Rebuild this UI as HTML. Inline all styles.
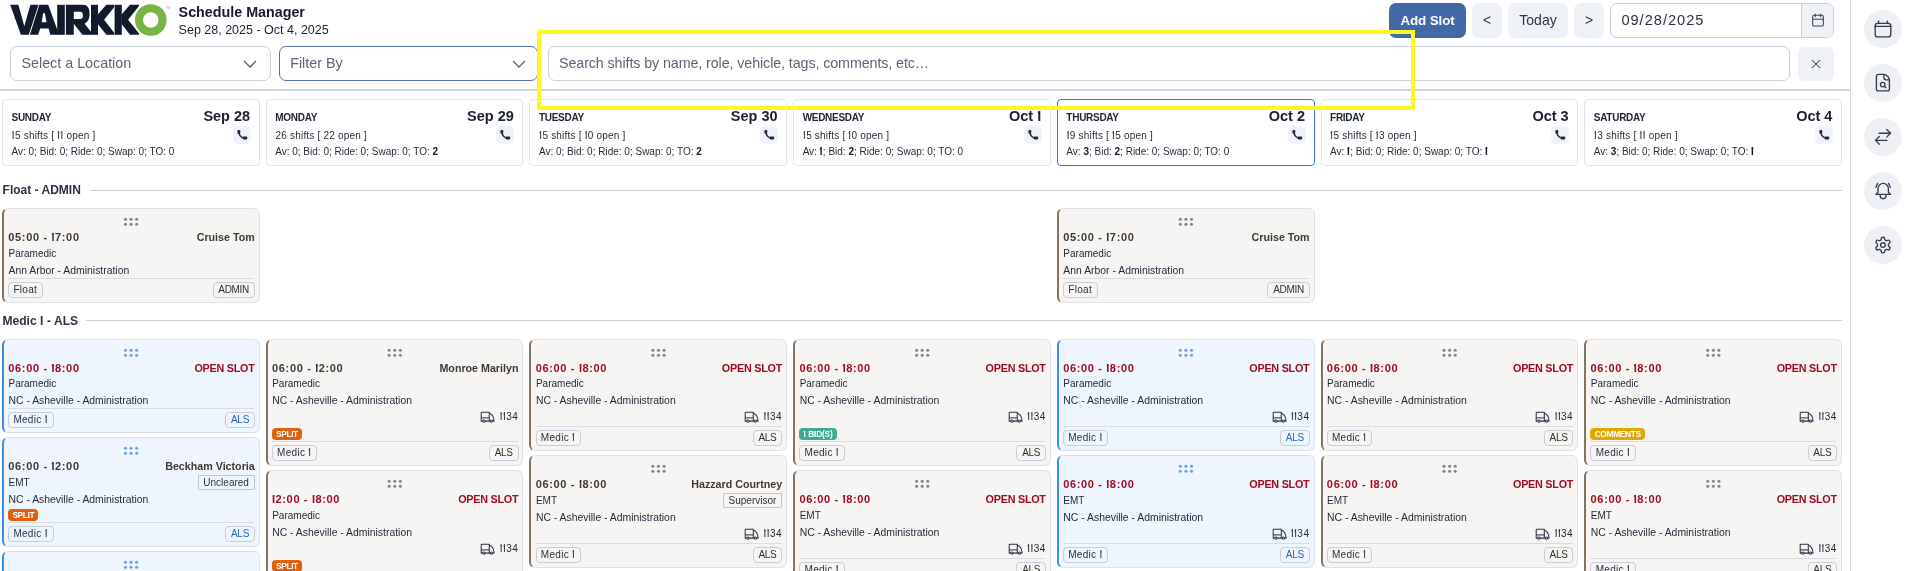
<!DOCTYPE html>
<html><head><meta charset="utf-8"><title>Schedule Manager</title><style>
*{margin:0;padding:0;}
html,body{width:1907px;height:571px;overflow:hidden;background:#fff;}
body{position:relative;font-family:"Liberation Sans", sans-serif;will-change:transform;}
.b{position:absolute;}
.t{position:absolute;white-space:nowrap;}
.t b{font-weight:700;color:#141a28;}
.o{letter-spacing:0.04em;position:relative;}
.o::before{content:'';position:absolute;left:0.01em;top:0.235em;width:0.13em;height:0.085em;background:currentColor;transform:rotate(-38deg);transform-origin:100% 0;}
.tb .o::before,.t b .o::before,.badge .o::before{height:0.12em;width:0.17em;left:-0.03em;top:0.225em;transform:rotate(-40deg);}
.tag{position:absolute;box-sizing:border-box;height:16px;line-height:14px;padding:0 4.8px 0 4.7px;border:1px solid #c8cdd7;border-radius:4px;font-size:10px;letter-spacing:-0.2px;white-space:nowrap;}
.rtag{position:absolute;box-sizing:border-box;height:14.5px;line-height:14px;padding:0 4.8px;border:1px solid #c0c5ce;border-radius:1px;color:#2c3444;font-size:10px;white-space:nowrap;}
.badge{position:absolute;height:12px;line-height:12px;padding:0 4.2px 0 4.4px;border-radius:4px;color:#fff;font-size:8.4px;font-weight:700;white-space:nowrap;}
</style></head>
<body>
<svg class="b" style="left:0;top:0" width="180" height="40" viewBox="0 0 180 40">
<g fill="#121a2e">
<polygon points="10.2,4.8 18.4,4.8 24.3,26.2 30.4,4.8 38.5,4.8 28.8,34.8 20.9,34.8"/>
<path fill-rule="evenodd" d="M39.3,4.8 L48.2,4.8 L57.3,29.8 L58.4,29.8 L58.4,34.8 L50.3,34.8 L48.6,28.5 L40.2,28.5 L38.2,34.8 L29.9,34.8 Z M43.1,13.3 L44.9,13.3 L46.5,22.2 L41.8,22.2 Z"/>
<rect x="57.2" y="4.8" width="7.6" height="30"/>
<path fill-rule="evenodd" d="M65.9,4.8 L83,4.8 C87.5,4.8 89.6,8.2 89.6,13.8 C89.6,18.8 87.6,22.4 84.6,23.8 L91.6,32.6 L91.6,34.8 L82.3,34.8 L74.2,24.3 L73.8,24.3 L73.8,34.8 L65.9,34.8 Z M73.8,11.8 L80.3,11.8 C82.2,11.8 82.9,13.4 82.9,15.4 C82.9,17.4 82.2,19 80.3,19 L73.8,19 Z"/>
<rect x="91" y="4.8" width="7" height="30"/>
<polygon points="97.8,14.6 106.3,4.8 114.1,4.8 114.1,7.2 104.1,19.7 114.1,32.7 114.1,34.8 106.3,34.8 97.8,24.1"/>
<rect x="114.6" y="4.8" width="7.2" height="30"/>
<polygon points="121.6,14.6 130,4.8 139,4.8 139,6 128.1,19.7 139,33.6 139,34.8 130,34.8 121.6,24.1"/>
</g>
<circle cx="150.8" cy="20" r="11.8" fill="none" stroke="#78b443" stroke-width="8"/>
<text x="165.4" y="8.6" font-size="3.4" fill="#a5aab2" font-family="Liberation Sans">TM</text>
</svg>
<div class="t tb" style="top:5px;font-size:14.3px;line-height:14.3px;font-weight:700;color:#141b2b;left:178.60px;">Schedule Manager</div>
<div class="t" style="top:24px;font-size:12.5px;line-height:12.5px;font-weight:400;color:#1a2030;left:178.60px;">Sep 28, 2025 - Oct 4, 2025</div>
<div class="b" style="left:1389.000px;top:3.000px;width:77.000px;height:35.000px;background:#4169a6;border-radius:7px;"></div>
<div class="t tb" style="top:14px;font-size:13.4px;line-height:13.4px;font-weight:700;color:#ffffff;letter-spacing:-0.1px;left:1227.50px;width:400px;text-align:center;">Add Slot</div>
<div class="b" style="left:1472.000px;top:3.000px;width:30.000px;height:35.000px;background:#eef1f6;border-radius:7px;"></div>
<div class="t" style="top:13px;font-size:14px;line-height:14px;font-weight:400;color:#2f3747;left:1287.00px;width:400px;text-align:center;">&lt;</div>
<div class="b" style="left:1508.000px;top:3.000px;width:60.000px;height:35.000px;background:#eef1f6;border-radius:7px;"></div>
<div class="t" style="top:13px;font-size:14.1px;line-height:14.1px;font-weight:400;color:#2f3747;left:1338.00px;width:400px;text-align:center;">Today</div>
<div class="b" style="left:1574.000px;top:3.000px;width:30.000px;height:35.000px;background:#eef1f6;border-radius:7px;"></div>
<div class="t" style="top:13px;font-size:14px;line-height:14px;font-weight:400;color:#2f3747;left:1389.00px;width:400px;text-align:center;">&gt;</div>
<div class="b" style="left:1610.000px;top:3.000px;width:224.000px;height:35.000px;box-sizing:border-box;border:1px solid #c8cfdd;border-radius:7px;background:#fff;overflow:hidden;"></div>
<div class="b" style="left:1801.000px;top:4.000px;width:32.000px;height:33.000px;background:#eef1f6;border-left:1px solid #c8cfdd;border-radius:0 6px 6px 0;box-sizing:border-box;"></div>
<div class="t" style="top:13px;font-size:14.6px;line-height:14.6px;font-weight:400;color:#2b3242;letter-spacing:1.0px;left:1621.40px;">09/28/2025</div>
<svg class="b" style="left:1809.50px;top:12.30px" width="16" height="16" viewBox="0 0 24 24" fill="none" stroke="#3a4252" stroke-width="1.6" stroke-linecap="round" stroke-linejoin="round"><path d="M4 7a2 2 0 0 1 2 -2h12a2 2 0 0 1 2 2v12a2 2 0 0 1 -2 2h-12a2 2 0 0 1 -2 -2v-12z"/><path d="M16 3v4"/><path d="M8 3v4"/><path d="M4 11h16"/></svg>
<div class="b" style="left:10.000px;top:46.000px;width:261.000px;height:35.000px;box-sizing:border-box;border:1px solid #c8cfdd;border-radius:7px;background:#fff;"></div>
<div class="t" style="top:56px;font-size:14.3px;line-height:14.3px;font-weight:400;color:#5b6579;left:21.50px;">Select a Location</div>
<svg class="b" style="left:243px;top:60px" width="14" height="8" viewBox="0 0 14 8"><path d="M1 1 L7 7 L13 1" fill="none" stroke="#5b6579" stroke-width="1.3"/></svg>
<div class="b" style="left:279.000px;top:46.000px;width:259.000px;height:35.000px;box-sizing:border-box;border:1px solid #4d72b4;border-radius:7px;background:#fff;"></div>
<div class="t" style="top:56px;font-size:14.3px;line-height:14.3px;font-weight:400;color:#5b6579;left:290.20px;">Filter By</div>
<svg class="b" style="left:512px;top:60px" width="14" height="8" viewBox="0 0 14 8"><path d="M1 1 L7 7 L13 1" fill="none" stroke="#5b6579" stroke-width="1.3"/></svg>
<div class="b" style="left:548.000px;top:46.000px;width:1242.000px;height:35.000px;box-sizing:border-box;border:1px solid #c8cfdd;border-radius:7px;background:#fff;"></div>
<div class="t" style="top:56px;font-size:14.3px;line-height:14.3px;font-weight:400;color:#5b6579;letter-spacing:-0.1px;left:559.00px;">Search shifts by name, role, vehicle, tags, comments, etc&hellip;</div>
<div class="b" style="left:1798.000px;top:47.000px;width:36.000px;height:34.000px;background:#eef1f6;border-radius:7px;"></div>
<svg class="b" style="left:1810px;top:58px" width="12" height="12" viewBox="0 0 12 12"><path d="M2 2 L10 10 M10 2 L2 10" stroke="#3a4252" stroke-width="1.05"/></svg>
<div class="b" style="left:0.000px;top:89.000px;width:1850.000px;height:2.000px;background:#d3d7de;"></div>
<div class="b" style="left:1850.000px;top:0.000px;width:1.000px;height:571.000px;background:#d5d8df;"></div>
<div class="b" style="left:1864px;top:9.8px;width:38px;height:38px;border-radius:50%;background:#eef0f5;"></div>
<svg class="b" style="left:1868px;top:14px" width="30" height="30" viewBox="0 0 30 30" fill="none" stroke="#343c4c" stroke-width="1.35" stroke-linecap="round" stroke-linejoin="round"><rect x="7.2" y="9.3" width="15.6" height="13.5" rx="2.4"/><path d="M7.2 12.4 H22.8"/><path d="M10.6 7.2 V9.3"/><path d="M19.4 7.2 V9.3"/></svg>
<div class="b" style="left:1864px;top:63.8px;width:38px;height:38px;border-radius:50%;background:#eef0f5;"></div>
<svg class="b" style="left:1868px;top:68px" width="30" height="30" viewBox="0 0 30 30" fill="none" stroke="#343c4c" stroke-width="1.35" stroke-linecap="round" stroke-linejoin="round"><path d="M10.4 6.4 H15.8 C18.5 6.4 21.4 9.3 21.4 12 V20.9 A2 2 0 0 1 19.4 22.9 H10.4 A2 2 0 0 1 8.4 20.9 V8.4 A2 2 0 0 1 10.4 6.4 Z"/><path d="M15.9 6.6 V9.6 A2.2 2.2 0 0 0 18.1 11.8 H21.2"/><circle cx="14.7" cy="16.6" r="2.3"/><path d="M16.4 18.3 L17.9 19.7"/></svg>
<div class="b" style="left:1864px;top:117.8px;width:38px;height:38px;border-radius:50%;background:#eef0f5;"></div>
<svg class="b" style="left:1868px;top:122px" width="30" height="30" viewBox="0 0 30 30" fill="none" stroke="#343c4c" stroke-width="1.35" stroke-linecap="round" stroke-linejoin="round"><path d="M11 11.2 H22.4"/><path d="M18.7 7.4 L22.5 11.2 L18.7 15.1"/><path d="M18.9 18.4 H7.6"/><path d="M11.3 14.5 L7.5 18.4 L11.3 22.3"/></svg>
<div class="b" style="left:1864px;top:171.8px;width:38px;height:38px;border-radius:50%;background:#eef0f5;"></div>
<svg class="b" style="left:1868px;top:176px" width="30" height="30" viewBox="0 0 30 30" fill="none" stroke="#343c4c" stroke-width="1.35" stroke-linecap="round" stroke-linejoin="round"><path d="M10 16.2 V12.6 A5.2 5.2 0 0 1 20.4 12.6 V16.2 L22.5 18.4 H7.9 Z"/><path d="M12.2 18.6 V19.8 A2.9 2.9 0 0 0 18 19.8 V18.6"/><path d="M9.6 7.4 L7.9 11.2"/><path d="M20.6 7.4 L22.3 11.2"/></svg>
<div class="b" style="left:1864px;top:225.8px;width:38px;height:38px;border-radius:50%;background:#eef0f5;"></div>
<svg class="b" style="left:1868px;top:230px" width="30" height="30" viewBox="0 0 30 30" fill="none" stroke="#343c4c" stroke-width="1.35" stroke-linecap="round" stroke-linejoin="round"><g transform="translate(5.6 5.7) scale(0.78)"><path stroke-width="1.75" d="M12.22 2h-.44a2 2 0 0 0-2 2v.18a2 2 0 0 1-1 1.73l-.43.25a2 2 0 0 1-2 0l-.15-.08a2 2 0 0 0-2.73.73l-.22.38a2 2 0 0 0 .73 2.730l.15.1a2 2 0 0 1 1 1.72v.51a2 2 0 0 1-1 1.740l-.15.09a2 2 0 0 0-.73 2.730l.22.38a2 2 0 0 0 2.73.73l.15-.08a2 2 0 0 1 2 0l.43.25a2 2 0 0 1 1 1.73V20a2 2 0 0 0 2 2h.44a2 2 0 0 0 2-2v-.18a2 2 0 0 1 1-1.73l.43-.25a2 2 0 0 1 2 0l.15.08a2 2 0 0 0 2.73-.73l.22-.39a2 2 0 0 0-.73-2.73l-.15-.08a2 2 0 0 1-1-1.74v-.5a2 2 0 0 1 1-1.74l.15-.09a2 2 0 0 0 .73-2.73l-.22-.38a2 2 0 0 0-2.73-.73l-.15.08a2 2 0 0 1-2 0l-.43-.25a2 2 0 0 1-1-1.73V4a2 2 0 0 0-2-2z"/><circle stroke-width="1.75" cx="12" cy="12" r="3"/></g></svg>
<div class="b" style="left:2.000px;top:99.000px;width:257.714px;height:67.000px;box-sizing:border-box;border:1px solid #e1e4ea;border-radius:4px;background:#fff;"></div>
<div class="t tb" style="top:113px;font-size:10px;line-height:10px;font-weight:700;color:#1d2433;letter-spacing:-0.28px;left:11.50px;">SUNDAY</div>
<div class="t tb" style="top:109px;font-size:14.5px;line-height:14.5px;font-weight:700;color:#1a2030;right:1656.89px;">Sep 28</div>
<div class="t" style="top:131px;font-size:10px;line-height:10px;font-weight:400;color:#262d3c;letter-spacing:0.2px;left:11.80px;"><span class="o">I</span>5 shifts [ <span class="o">I</span><span class="o">I</span> open ]</div>
<div class="t" style="top:147px;font-size:10px;line-height:10px;font-weight:400;color:#262d3c;left:11.50px;">Av: 0; Bid: 0; Ride: 0; Swap: 0; TO: 0</div>
<div class="b" style="left:232.714px;top:126.000px;width:18.000px;height:18.000px;background:#eff2f7;border-radius:5px;"></div>
<svg class="b" style="left:235.71px;top:128px" width="14" height="14" viewBox="0 0 14 14" fill="#232b3b"><rect x="1.4" y="2.1" width="2.9" height="3.6" rx="1"/><rect x="6.7" y="8.5" width="4.5" height="3.1" rx="1"/><path d="M2.9 4 A6.5 6.5 0 0 0 9.4 10.5" fill="none" stroke="#232b3b" stroke-width="1.45"/></svg>
<div class="b" style="left:265.714px;top:99.000px;width:257.714px;height:67.000px;box-sizing:border-box;border:1px solid #e1e4ea;border-radius:4px;background:#fff;"></div>
<div class="t tb" style="top:113px;font-size:10px;line-height:10px;font-weight:700;color:#1d2433;letter-spacing:-0.28px;left:275.21px;">MONDAY</div>
<div class="t tb" style="top:109px;font-size:14.5px;line-height:14.5px;font-weight:700;color:#1a2030;right:1393.17px;">Sep 29</div>
<div class="t" style="top:131px;font-size:10px;line-height:10px;font-weight:400;color:#262d3c;letter-spacing:0.2px;left:275.51px;">26 shifts [ 22 open ]</div>
<div class="t" style="top:147px;font-size:10px;line-height:10px;font-weight:400;color:#262d3c;left:275.21px;">Av: 0; Bid: 0; Ride: 0; Swap: 0; TO: <b>2</b></div>
<div class="b" style="left:496.428px;top:126.000px;width:18.000px;height:18.000px;background:#eff2f7;border-radius:5px;"></div>
<svg class="b" style="left:499.43px;top:128px" width="14" height="14" viewBox="0 0 14 14" fill="#232b3b"><rect x="1.4" y="2.1" width="2.9" height="3.6" rx="1"/><rect x="6.7" y="8.5" width="4.5" height="3.1" rx="1"/><path d="M2.9 4 A6.5 6.5 0 0 0 9.4 10.5" fill="none" stroke="#232b3b" stroke-width="1.45"/></svg>
<div class="b" style="left:529.428px;top:99.000px;width:257.714px;height:67.000px;box-sizing:border-box;border:1px solid #e1e4ea;border-radius:4px;background:#fff;"></div>
<div class="t tb" style="top:113px;font-size:10px;line-height:10px;font-weight:700;color:#1d2433;letter-spacing:-0.28px;left:538.93px;">TUESDAY</div>
<div class="t tb" style="top:109px;font-size:14.5px;line-height:14.5px;font-weight:700;color:#1a2030;right:1129.46px;">Sep 30</div>
<div class="t" style="top:131px;font-size:10px;line-height:10px;font-weight:400;color:#262d3c;letter-spacing:0.2px;left:539.23px;"><span class="o">I</span>5 shifts [ <span class="o">I</span>0 open ]</div>
<div class="t" style="top:147px;font-size:10px;line-height:10px;font-weight:400;color:#262d3c;left:538.93px;">Av: 0; Bid: 0; Ride: 0; Swap: 0; TO: <b>2</b></div>
<div class="b" style="left:760.142px;top:126.000px;width:18.000px;height:18.000px;background:#eff2f7;border-radius:5px;"></div>
<svg class="b" style="left:763.14px;top:128px" width="14" height="14" viewBox="0 0 14 14" fill="#232b3b"><rect x="1.4" y="2.1" width="2.9" height="3.6" rx="1"/><rect x="6.7" y="8.5" width="4.5" height="3.1" rx="1"/><path d="M2.9 4 A6.5 6.5 0 0 0 9.4 10.5" fill="none" stroke="#232b3b" stroke-width="1.45"/></svg>
<div class="b" style="left:793.142px;top:99.000px;width:257.714px;height:67.000px;box-sizing:border-box;border:1px solid #e1e4ea;border-radius:4px;background:#fff;"></div>
<div class="t tb" style="top:113px;font-size:10px;line-height:10px;font-weight:700;color:#1d2433;letter-spacing:-0.28px;left:802.64px;">WEDNESDAY</div>
<div class="t tb" style="top:109px;font-size:14.5px;line-height:14.5px;font-weight:700;color:#1a2030;right:865.16px;">Oct <span class="o">I</span></div>
<div class="t" style="top:131px;font-size:10px;line-height:10px;font-weight:400;color:#262d3c;letter-spacing:0.2px;left:802.94px;"><span class="o">I</span>5 shifts [ <span class="o">I</span>0 open ]</div>
<div class="t" style="top:147px;font-size:10px;line-height:10px;font-weight:400;color:#262d3c;left:802.64px;">Av: <b><span class="o">I</span></b>; Bid: <b>2</b>; Ride: 0; Swap: 0; TO: 0</div>
<div class="b" style="left:1023.856px;top:126.000px;width:18.000px;height:18.000px;background:#eff2f7;border-radius:5px;"></div>
<svg class="b" style="left:1026.86px;top:128px" width="14" height="14" viewBox="0 0 14 14" fill="#232b3b"><rect x="1.4" y="2.1" width="2.9" height="3.6" rx="1"/><rect x="6.7" y="8.5" width="4.5" height="3.1" rx="1"/><path d="M2.9 4 A6.5 6.5 0 0 0 9.4 10.5" fill="none" stroke="#232b3b" stroke-width="1.45"/></svg>
<div class="b" style="left:1056.856px;top:99.000px;width:257.714px;height:67.000px;box-sizing:border-box;border:1px solid #3d6ef0;border-radius:4px;background:#fff;"></div>
<div class="t tb" style="top:113px;font-size:10px;line-height:10px;font-weight:700;color:#1d2433;letter-spacing:-0.28px;left:1066.36px;">THURSDAY</div>
<div class="t tb" style="top:109px;font-size:14.5px;line-height:14.5px;font-weight:700;color:#1a2030;right:602.03px;">Oct 2</div>
<div class="t" style="top:131px;font-size:10px;line-height:10px;font-weight:400;color:#262d3c;letter-spacing:0.2px;left:1066.66px;"><span class="o">I</span>9 shifts [ <span class="o">I</span>5 open ]</div>
<div class="t" style="top:147px;font-size:10px;line-height:10px;font-weight:400;color:#262d3c;left:1066.36px;">Av: <b>3</b>; Bid: <b>2</b>; Ride: 0; Swap: 0; TO: 0</div>
<div class="b" style="left:1287.570px;top:126.000px;width:18.000px;height:18.000px;background:#eff2f7;border-radius:5px;"></div>
<svg class="b" style="left:1290.57px;top:128px" width="14" height="14" viewBox="0 0 14 14" fill="#232b3b"><rect x="1.4" y="2.1" width="2.9" height="3.6" rx="1"/><rect x="6.7" y="8.5" width="4.5" height="3.1" rx="1"/><path d="M2.9 4 A6.5 6.5 0 0 0 9.4 10.5" fill="none" stroke="#232b3b" stroke-width="1.45"/></svg>
<div class="b" style="left:1320.570px;top:99.000px;width:257.714px;height:67.000px;box-sizing:border-box;border:1px solid #e1e4ea;border-radius:4px;background:#fff;"></div>
<div class="t tb" style="top:113px;font-size:10px;line-height:10px;font-weight:700;color:#1d2433;letter-spacing:-0.28px;left:1330.07px;">FRIDAY</div>
<div class="t tb" style="top:109px;font-size:14.5px;line-height:14.5px;font-weight:700;color:#1a2030;right:338.32px;">Oct 3</div>
<div class="t" style="top:131px;font-size:10px;line-height:10px;font-weight:400;color:#262d3c;letter-spacing:0.2px;left:1330.37px;"><span class="o">I</span>5 shifts [ <span class="o">I</span>3 open ]</div>
<div class="t" style="top:147px;font-size:10px;line-height:10px;font-weight:400;color:#262d3c;left:1330.07px;">Av: <b><span class="o">I</span></b>; Bid: 0; Ride: 0; Swap: 0; TO: <b><span class="o">I</span></b></div>
<div class="b" style="left:1551.284px;top:126.000px;width:18.000px;height:18.000px;background:#eff2f7;border-radius:5px;"></div>
<svg class="b" style="left:1554.28px;top:128px" width="14" height="14" viewBox="0 0 14 14" fill="#232b3b"><rect x="1.4" y="2.1" width="2.9" height="3.6" rx="1"/><rect x="6.7" y="8.5" width="4.5" height="3.1" rx="1"/><path d="M2.9 4 A6.5 6.5 0 0 0 9.4 10.5" fill="none" stroke="#232b3b" stroke-width="1.45"/></svg>
<div class="b" style="left:1584.284px;top:99.000px;width:257.714px;height:67.000px;box-sizing:border-box;border:1px solid #e1e4ea;border-radius:4px;background:#fff;"></div>
<div class="t tb" style="top:113px;font-size:10px;line-height:10px;font-weight:700;color:#1d2433;letter-spacing:-0.28px;left:1593.78px;">SATURDAY</div>
<div class="t tb" style="top:109px;font-size:14.5px;line-height:14.5px;font-weight:700;color:#1a2030;right:74.60px;">Oct 4</div>
<div class="t" style="top:131px;font-size:10px;line-height:10px;font-weight:400;color:#262d3c;letter-spacing:0.2px;left:1594.08px;"><span class="o">I</span>3 shifts [ <span class="o">I</span><span class="o">I</span> open ]</div>
<div class="t" style="top:147px;font-size:10px;line-height:10px;font-weight:400;color:#262d3c;left:1593.78px;">Av: <b>3</b>; Bid: 0; Ride: 0; Swap: 0; TO: <b><span class="o">I</span></b></div>
<div class="b" style="left:1814.998px;top:126.000px;width:18.000px;height:18.000px;background:#eff2f7;border-radius:5px;"></div>
<svg class="b" style="left:1818.00px;top:128px" width="14" height="14" viewBox="0 0 14 14" fill="#232b3b"><rect x="1.4" y="2.1" width="2.9" height="3.6" rx="1"/><rect x="6.7" y="8.5" width="4.5" height="3.1" rx="1"/><path d="M2.9 4 A6.5 6.5 0 0 0 9.4 10.5" fill="none" stroke="#232b3b" stroke-width="1.45"/></svg>
<div class="t tb" style="top:184px;font-size:12px;line-height:12px;font-weight:700;color:#2c3444;left:2.60px;">Float - ADMIN</div>
<div class="b" style="left:90.000px;top:190.000px;width:1752.000px;height:1.000px;background:#c9ced7;"></div>
<div class="t tb" style="top:315px;font-size:12px;line-height:12px;font-weight:700;color:#2c3444;left:2.60px;">Medic <span class="o">I</span> - ALS</div>
<div class="b" style="left:86.000px;top:320.000px;width:1756.000px;height:1.000px;background:#c9ced7;"></div>
<div class="b" style="left:2.000px;top:208.000px;width:257.714px;height:95.000px;box-sizing:border-box;border:1px solid #dee1e6;border-left:2px solid #86735f;border-radius:6px;background:#f6f5f3;"></div>
<svg class="b" style="left:0;top:0;overflow:visible" width="1" height="1"><circle cx="125.46" cy="219.30" r="1.55" fill="#858585"/><circle cx="131.06" cy="219.30" r="1.55" fill="#858585"/><circle cx="136.66" cy="219.30" r="1.55" fill="#858585"/><circle cx="125.46" cy="224.25" r="1.55" fill="#858585"/><circle cx="131.06" cy="224.25" r="1.55" fill="#858585"/><circle cx="136.66" cy="224.25" r="1.55" fill="#858585"/></svg>
<div class="t tb" style="top:232px;font-size:11px;line-height:11px;font-weight:700;color:#403a33;letter-spacing:0.66px;left:8.30px;">05:00 - <span class="o">I</span>7:00</div>
<div class="t tb" style="top:232px;font-size:10.7px;line-height:10.7px;font-weight:700;color:#403a33;right:1652.29px;">Cruise Tom</div>
<div class="t" style="top:249px;font-size:10px;line-height:10px;font-weight:400;color:#1e2636;left:8.50px;">Paramedic</div>
<div class="t" style="top:266px;font-size:10.4px;line-height:10.4px;font-weight:400;color:#1e2636;left:8.50px;">Ann Arbor - Administration</div>
<div class="b" style="left:8.000px;top:278.000px;width:246.214px;height:1.000px;background:#dcdcde;"></div>
<div class="tag" style="left:8.20px;top:281.60px;color:#2a3242;letter-spacing:0.3px;padding-left:4.2px">Float</div>
<div class="tag" style="right:1652.19px;top:281.60px;color:#35302a;letter-spacing:-0.3px">ADMIN</div>
<div class="b" style="left:1056.856px;top:208.000px;width:257.714px;height:95.000px;box-sizing:border-box;border:1px solid #dee1e6;border-left:2px solid #86735f;border-radius:6px;background:#f6f5f3;"></div>
<svg class="b" style="left:0;top:0;overflow:visible" width="1" height="1"><circle cx="1180.31" cy="219.30" r="1.55" fill="#858585"/><circle cx="1185.91" cy="219.30" r="1.55" fill="#858585"/><circle cx="1191.51" cy="219.30" r="1.55" fill="#858585"/><circle cx="1180.31" cy="224.25" r="1.55" fill="#858585"/><circle cx="1185.91" cy="224.25" r="1.55" fill="#858585"/><circle cx="1191.51" cy="224.25" r="1.55" fill="#858585"/></svg>
<div class="t tb" style="top:232px;font-size:11px;line-height:11px;font-weight:700;color:#403a33;letter-spacing:0.66px;left:1063.16px;">05:00 - <span class="o">I</span>7:00</div>
<div class="t tb" style="top:232px;font-size:10.7px;line-height:10.7px;font-weight:700;color:#403a33;right:597.43px;">Cruise Tom</div>
<div class="t" style="top:249px;font-size:10px;line-height:10px;font-weight:400;color:#1e2636;left:1063.36px;">Paramedic</div>
<div class="t" style="top:266px;font-size:10.4px;line-height:10.4px;font-weight:400;color:#1e2636;left:1063.36px;">Ann Arbor - Administration</div>
<div class="b" style="left:1062.856px;top:278.000px;width:246.214px;height:1.000px;background:#dcdcde;"></div>
<div class="tag" style="left:1063.06px;top:281.60px;color:#2a3242;letter-spacing:0.3px;padding-left:4.2px">Float</div>
<div class="tag" style="right:597.33px;top:281.60px;color:#35302a;letter-spacing:-0.3px">ADMIN</div>
<div class="b" style="left:2.000px;top:339.000px;width:257.714px;height:94.000px;box-sizing:border-box;border:1px solid #dfe2e8;border-left:2px solid #3a8fea;border-radius:6px;background:#eef5fe;"></div>
<svg class="b" style="left:0;top:0;overflow:visible" width="1" height="1"><circle cx="125.46" cy="350.30" r="1.55" fill="#6da2dd"/><circle cx="131.06" cy="350.30" r="1.55" fill="#6da2dd"/><circle cx="136.66" cy="350.30" r="1.55" fill="#6da2dd"/><circle cx="125.46" cy="355.25" r="1.55" fill="#6da2dd"/><circle cx="131.06" cy="355.25" r="1.55" fill="#6da2dd"/><circle cx="136.66" cy="355.25" r="1.55" fill="#6da2dd"/></svg>
<div class="t tb" style="top:363px;font-size:11px;line-height:11px;font-weight:700;color:#a00c1f;letter-spacing:0.66px;left:8.30px;">06:00 - <span class="o">I</span>8:00</div>
<div class="t tb" style="top:363px;font-size:10.8px;line-height:10.8px;font-weight:700;color:#a00c1f;letter-spacing:-0.25px;right:1652.44px;">OPEN SLOT</div>
<div class="t" style="top:379px;font-size:10px;line-height:10px;font-weight:400;color:#1e2636;left:8.50px;">Paramedic</div>
<div class="t" style="top:396px;font-size:10.4px;line-height:10.4px;font-weight:400;color:#1e2636;left:8.50px;">NC - Asheville - Administration</div>
<div class="b" style="left:8.000px;top:408.000px;width:246.214px;height:1.000px;background:#d5dce6;"></div>
<div class="tag" style="left:8.20px;top:411.60px;color:#2a3242;letter-spacing:0.3px;padding-left:4.2px">Medic <span class="o">I</span></div>
<div class="tag" style="right:1652.19px;top:411.60px;color:#2a68bd;letter-spacing:-0.3px">ALS</div>
<div class="b" style="left:2.000px;top:437.000px;width:257.714px;height:110.000px;box-sizing:border-box;border:1px solid #dfe2e8;border-left:2px solid #3a8fea;border-radius:6px;background:#eef5fe;"></div>
<svg class="b" style="left:0;top:0;overflow:visible" width="1" height="1"><circle cx="125.46" cy="448.30" r="1.55" fill="#6da2dd"/><circle cx="131.06" cy="448.30" r="1.55" fill="#6da2dd"/><circle cx="136.66" cy="448.30" r="1.55" fill="#6da2dd"/><circle cx="125.46" cy="453.25" r="1.55" fill="#6da2dd"/><circle cx="131.06" cy="453.25" r="1.55" fill="#6da2dd"/><circle cx="136.66" cy="453.25" r="1.55" fill="#6da2dd"/></svg>
<div class="t tb" style="top:461px;font-size:11px;line-height:11px;font-weight:700;color:#403a33;letter-spacing:0.66px;left:8.30px;">06:00 - <span class="o">I</span>2:00</div>
<div class="t tb" style="top:461px;font-size:10.7px;line-height:10.7px;font-weight:700;color:#403a33;right:1652.29px;">Beckham Victoria</div>
<div class="t" style="top:478px;font-size:10px;line-height:10px;font-weight:400;color:#1e2636;left:8.50px;">EMT</div>
<div class="rtag" style="right:1652.29px;top:475px;">Uncleared</div>
<div class="t" style="top:495px;font-size:10.4px;line-height:10.4px;font-weight:400;color:#1e2636;left:8.50px;">NC - Asheville - Administration</div>
<div class="badge" style="left:8.00px;top:509px;background:#e0600c;letter-spacing:-0.4px">SPLIT</div>
<div class="b" style="left:8.000px;top:522.000px;width:246.214px;height:1.000px;background:#d5dce6;"></div>
<div class="tag" style="left:8.20px;top:525.60px;color:#2a3242;letter-spacing:0.3px;padding-left:4.2px">Medic <span class="o">I</span></div>
<div class="tag" style="right:1652.19px;top:525.60px;color:#2a68bd;letter-spacing:-0.3px">ALS</div>
<div class="b" style="left:2.000px;top:551.000px;width:257.714px;height:95.000px;box-sizing:border-box;border:1px solid #dfe2e8;border-left:2px solid #3a8fea;border-radius:6px;background:#eef5fe;"></div>
<svg class="b" style="left:0;top:0;overflow:visible" width="1" height="1"><circle cx="125.46" cy="562.30" r="1.55" fill="#6da2dd"/><circle cx="131.06" cy="562.30" r="1.55" fill="#6da2dd"/><circle cx="136.66" cy="562.30" r="1.55" fill="#6da2dd"/><circle cx="125.46" cy="567.25" r="1.55" fill="#6da2dd"/><circle cx="131.06" cy="567.25" r="1.55" fill="#6da2dd"/><circle cx="136.66" cy="567.25" r="1.55" fill="#6da2dd"/></svg>
<div class="t tb" style="top:575px;font-size:11px;line-height:11px;font-weight:700;color:#a00c1f;letter-spacing:0.66px;left:8.30px;">06:00 - <span class="o">I</span>8:00</div>
<div class="t tb" style="top:575px;font-size:10.8px;line-height:10.8px;font-weight:700;color:#a00c1f;letter-spacing:-0.25px;right:1652.44px;">OPEN SLOT</div>
<div class="t" style="top:592px;font-size:10px;line-height:10px;font-weight:400;color:#1e2636;left:8.50px;">Paramedic</div>
<div class="t" style="top:609px;font-size:10.4px;line-height:10.4px;font-weight:400;color:#1e2636;left:8.50px;">NC - Asheville - Administration</div>
<div class="b" style="left:8.000px;top:621.000px;width:246.214px;height:1.000px;background:#d5dce6;"></div>
<div class="tag" style="left:8.20px;top:624.60px;color:#2a3242;letter-spacing:0.3px;padding-left:4.2px">Medic <span class="o">I</span></div>
<div class="tag" style="right:1652.19px;top:624.60px;color:#2a68bd;letter-spacing:-0.3px">ALS</div>
<div class="b" style="left:265.714px;top:339.000px;width:257.714px;height:127.000px;box-sizing:border-box;border:1px solid #dee1e6;border-left:2px solid #86735f;border-radius:6px;background:#f6f5f3;"></div>
<svg class="b" style="left:0;top:0;overflow:visible" width="1" height="1"><circle cx="389.17" cy="350.30" r="1.55" fill="#858585"/><circle cx="394.77" cy="350.30" r="1.55" fill="#858585"/><circle cx="400.37" cy="350.30" r="1.55" fill="#858585"/><circle cx="389.17" cy="355.25" r="1.55" fill="#858585"/><circle cx="394.77" cy="355.25" r="1.55" fill="#858585"/><circle cx="400.37" cy="355.25" r="1.55" fill="#858585"/></svg>
<div class="t tb" style="top:363px;font-size:11px;line-height:11px;font-weight:700;color:#403a33;letter-spacing:0.66px;left:272.01px;">06:00 - <span class="o">I</span>2:00</div>
<div class="t tb" style="top:363px;font-size:10.7px;line-height:10.7px;font-weight:700;color:#403a33;right:1388.57px;">Monroe Marilyn</div>
<div class="t" style="top:379px;font-size:10px;line-height:10px;font-weight:400;color:#1e2636;left:272.21px;">Paramedic</div>
<div class="t" style="top:396px;font-size:10.4px;line-height:10.4px;font-weight:400;color:#1e2636;left:272.21px;">NC - Asheville - Administration</div>
<div class="t" style="top:412px;font-size:10px;line-height:10px;font-weight:400;color:#1e2636;letter-spacing:0.5px;right:1388.67px;"><span class="o">I</span><span class="o">I</span>34</div>
<svg class="b" style="left:480.43px;top:410.60px" width="15" height="12" viewBox="0 0 15 12" fill="none" stroke="#2a3345" stroke-width="1.05" stroke-linejoin="round"><path d="M1.2 10.1 V2.1 a0.9 0.9 0 0 1 0.9 -0.9 H9.3 V10.1 Z"/><path d="M1.2 6.9 H9.3"/><path d="M9.3 1.9 Q13.4 3.6 14 9 V10.1 H9.3"/><circle cx="3.9" cy="10.1" r="1.2" fill="#fff"/><circle cx="11.4" cy="10.1" r="1.2" fill="#fff"/></svg>
<div class="badge" style="left:271.71px;top:428px;background:#e0600c;letter-spacing:-0.4px">SPLIT</div>
<div class="b" style="left:271.714px;top:441.000px;width:246.214px;height:1.000px;background:#dcdcde;"></div>
<div class="tag" style="left:271.91px;top:444.60px;color:#2a3242;letter-spacing:0.3px;padding-left:4.2px">Medic <span class="o">I</span></div>
<div class="tag" style="right:1388.47px;top:444.60px;color:#35302a;letter-spacing:-0.3px">ALS</div>
<div class="b" style="left:265.714px;top:470.000px;width:257.714px;height:128.000px;box-sizing:border-box;border:1px solid #dee1e6;border-left:2px solid #86735f;border-radius:6px;background:#f6f5f3;"></div>
<svg class="b" style="left:0;top:0;overflow:visible" width="1" height="1"><circle cx="389.17" cy="481.30" r="1.55" fill="#858585"/><circle cx="394.77" cy="481.30" r="1.55" fill="#858585"/><circle cx="400.37" cy="481.30" r="1.55" fill="#858585"/><circle cx="389.17" cy="486.25" r="1.55" fill="#858585"/><circle cx="394.77" cy="486.25" r="1.55" fill="#858585"/><circle cx="400.37" cy="486.25" r="1.55" fill="#858585"/></svg>
<div class="t tb" style="top:494px;font-size:11px;line-height:11px;font-weight:700;color:#a00c1f;letter-spacing:0.66px;left:272.01px;"><span class="o">I</span>2:00 - <span class="o">I</span>8:00</div>
<div class="t tb" style="top:494px;font-size:10.8px;line-height:10.8px;font-weight:700;color:#a00c1f;letter-spacing:-0.25px;right:1388.72px;">OPEN SLOT</div>
<div class="t" style="top:511px;font-size:10px;line-height:10px;font-weight:400;color:#1e2636;left:272.21px;">Paramedic</div>
<div class="t" style="top:528px;font-size:10.4px;line-height:10.4px;font-weight:400;color:#1e2636;left:272.21px;">NC - Asheville - Administration</div>
<div class="t" style="top:544px;font-size:10px;line-height:10px;font-weight:400;color:#1e2636;letter-spacing:0.5px;right:1388.67px;"><span class="o">I</span><span class="o">I</span>34</div>
<svg class="b" style="left:480.43px;top:542.60px" width="15" height="12" viewBox="0 0 15 12" fill="none" stroke="#2a3345" stroke-width="1.05" stroke-linejoin="round"><path d="M1.2 10.1 V2.1 a0.9 0.9 0 0 1 0.9 -0.9 H9.3 V10.1 Z"/><path d="M1.2 6.9 H9.3"/><path d="M9.3 1.9 Q13.4 3.6 14 9 V10.1 H9.3"/><circle cx="3.9" cy="10.1" r="1.2" fill="#fff"/><circle cx="11.4" cy="10.1" r="1.2" fill="#fff"/></svg>
<div class="badge" style="left:271.71px;top:560px;background:#e0600c;letter-spacing:-0.4px">SPLIT</div>
<div class="b" style="left:271.714px;top:573.000px;width:246.214px;height:1.000px;background:#dcdcde;"></div>
<div class="tag" style="left:271.91px;top:576.60px;color:#2a3242;letter-spacing:0.3px;padding-left:4.2px">Medic <span class="o">I</span></div>
<div class="tag" style="right:1388.47px;top:576.60px;color:#35302a;letter-spacing:-0.3px">ALS</div>
<div class="b" style="left:529.428px;top:339.000px;width:257.714px;height:112.000px;box-sizing:border-box;border:1px solid #dee1e6;border-left:2px solid #86735f;border-radius:6px;background:#f6f5f3;"></div>
<svg class="b" style="left:0;top:0;overflow:visible" width="1" height="1"><circle cx="652.88" cy="350.30" r="1.55" fill="#858585"/><circle cx="658.49" cy="350.30" r="1.55" fill="#858585"/><circle cx="664.09" cy="350.30" r="1.55" fill="#858585"/><circle cx="652.88" cy="355.25" r="1.55" fill="#858585"/><circle cx="658.49" cy="355.25" r="1.55" fill="#858585"/><circle cx="664.09" cy="355.25" r="1.55" fill="#858585"/></svg>
<div class="t tb" style="top:363px;font-size:11px;line-height:11px;font-weight:700;color:#a00c1f;letter-spacing:0.66px;left:535.73px;">06:00 - <span class="o">I</span>8:00</div>
<div class="t tb" style="top:363px;font-size:10.8px;line-height:10.8px;font-weight:700;color:#a00c1f;letter-spacing:-0.25px;right:1125.01px;">OPEN SLOT</div>
<div class="t" style="top:379px;font-size:10px;line-height:10px;font-weight:400;color:#1e2636;left:535.93px;">Paramedic</div>
<div class="t" style="top:396px;font-size:10.4px;line-height:10.4px;font-weight:400;color:#1e2636;left:535.93px;">NC - Asheville - Administration</div>
<div class="t" style="top:412px;font-size:10px;line-height:10px;font-weight:400;color:#1e2636;letter-spacing:0.5px;right:1124.96px;"><span class="o">I</span><span class="o">I</span>34</div>
<svg class="b" style="left:744.14px;top:410.60px" width="15" height="12" viewBox="0 0 15 12" fill="none" stroke="#2a3345" stroke-width="1.05" stroke-linejoin="round"><path d="M1.2 10.1 V2.1 a0.9 0.9 0 0 1 0.9 -0.9 H9.3 V10.1 Z"/><path d="M1.2 6.9 H9.3"/><path d="M9.3 1.9 Q13.4 3.6 14 9 V10.1 H9.3"/><circle cx="3.9" cy="10.1" r="1.2" fill="#fff"/><circle cx="11.4" cy="10.1" r="1.2" fill="#fff"/></svg>
<div class="b" style="left:535.428px;top:426.000px;width:246.214px;height:1.000px;background:#dcdcde;"></div>
<div class="tag" style="left:535.63px;top:429.60px;color:#2a3242;letter-spacing:0.3px;padding-left:4.2px">Medic <span class="o">I</span></div>
<div class="tag" style="right:1124.76px;top:429.60px;color:#35302a;letter-spacing:-0.3px">ALS</div>
<div class="b" style="left:529.428px;top:455.000px;width:257.714px;height:113.000px;box-sizing:border-box;border:1px solid #dee1e6;border-left:2px solid #86735f;border-radius:6px;background:#f6f5f3;"></div>
<svg class="b" style="left:0;top:0;overflow:visible" width="1" height="1"><circle cx="652.88" cy="466.30" r="1.55" fill="#858585"/><circle cx="658.49" cy="466.30" r="1.55" fill="#858585"/><circle cx="664.09" cy="466.30" r="1.55" fill="#858585"/><circle cx="652.88" cy="471.25" r="1.55" fill="#858585"/><circle cx="658.49" cy="471.25" r="1.55" fill="#858585"/><circle cx="664.09" cy="471.25" r="1.55" fill="#858585"/></svg>
<div class="t tb" style="top:479px;font-size:11px;line-height:11px;font-weight:700;color:#403a33;letter-spacing:0.66px;left:535.73px;">06:00 - <span class="o">I</span>8:00</div>
<div class="t tb" style="top:479px;font-size:10.7px;line-height:10.7px;font-weight:700;color:#403a33;right:1124.86px;">Hazzard Courtney</div>
<div class="t" style="top:496px;font-size:10px;line-height:10px;font-weight:400;color:#1e2636;left:535.93px;">EMT</div>
<div class="rtag" style="right:1124.86px;top:493px;">Supervisor</div>
<div class="t" style="top:513px;font-size:10.4px;line-height:10.4px;font-weight:400;color:#1e2636;left:535.93px;">NC - Asheville - Administration</div>
<div class="t" style="top:529px;font-size:10px;line-height:10px;font-weight:400;color:#1e2636;letter-spacing:0.5px;right:1124.96px;"><span class="o">I</span><span class="o">I</span>34</div>
<svg class="b" style="left:744.14px;top:527.60px" width="15" height="12" viewBox="0 0 15 12" fill="none" stroke="#2a3345" stroke-width="1.05" stroke-linejoin="round"><path d="M1.2 10.1 V2.1 a0.9 0.9 0 0 1 0.9 -0.9 H9.3 V10.1 Z"/><path d="M1.2 6.9 H9.3"/><path d="M9.3 1.9 Q13.4 3.6 14 9 V10.1 H9.3"/><circle cx="3.9" cy="10.1" r="1.2" fill="#fff"/><circle cx="11.4" cy="10.1" r="1.2" fill="#fff"/></svg>
<div class="b" style="left:535.428px;top:543.000px;width:246.214px;height:1.000px;background:#dcdcde;"></div>
<div class="tag" style="left:535.63px;top:546.60px;color:#2a3242;letter-spacing:0.3px;padding-left:4.2px">Medic <span class="o">I</span></div>
<div class="tag" style="right:1124.76px;top:546.60px;color:#35302a;letter-spacing:-0.3px">ALS</div>
<div class="b" style="left:793.142px;top:339.000px;width:257.714px;height:127.000px;box-sizing:border-box;border:1px solid #dee1e6;border-left:2px solid #86735f;border-radius:6px;background:#f6f5f3;"></div>
<svg class="b" style="left:0;top:0;overflow:visible" width="1" height="1"><circle cx="916.60" cy="350.30" r="1.55" fill="#858585"/><circle cx="922.20" cy="350.30" r="1.55" fill="#858585"/><circle cx="927.80" cy="350.30" r="1.55" fill="#858585"/><circle cx="916.60" cy="355.25" r="1.55" fill="#858585"/><circle cx="922.20" cy="355.25" r="1.55" fill="#858585"/><circle cx="927.80" cy="355.25" r="1.55" fill="#858585"/></svg>
<div class="t tb" style="top:363px;font-size:11px;line-height:11px;font-weight:700;color:#a00c1f;letter-spacing:0.66px;left:799.44px;">06:00 - <span class="o">I</span>8:00</div>
<div class="t tb" style="top:363px;font-size:10.8px;line-height:10.8px;font-weight:700;color:#a00c1f;letter-spacing:-0.25px;right:861.29px;">OPEN SLOT</div>
<div class="t" style="top:379px;font-size:10px;line-height:10px;font-weight:400;color:#1e2636;left:799.64px;">Paramedic</div>
<div class="t" style="top:396px;font-size:10.4px;line-height:10.4px;font-weight:400;color:#1e2636;left:799.64px;">NC - Asheville - Administration</div>
<div class="t" style="top:412px;font-size:10px;line-height:10px;font-weight:400;color:#1e2636;letter-spacing:0.5px;right:861.24px;"><span class="o">I</span><span class="o">I</span>34</div>
<svg class="b" style="left:1007.86px;top:410.60px" width="15" height="12" viewBox="0 0 15 12" fill="none" stroke="#2a3345" stroke-width="1.05" stroke-linejoin="round"><path d="M1.2 10.1 V2.1 a0.9 0.9 0 0 1 0.9 -0.9 H9.3 V10.1 Z"/><path d="M1.2 6.9 H9.3"/><path d="M9.3 1.9 Q13.4 3.6 14 9 V10.1 H9.3"/><circle cx="3.9" cy="10.1" r="1.2" fill="#fff"/><circle cx="11.4" cy="10.1" r="1.2" fill="#fff"/></svg>
<div class="badge" style="left:799.14px;top:428px;background:#3fab94;letter-spacing:-0.23px"><span class="o">I</span> BID(S)</div>
<div class="b" style="left:799.142px;top:441.000px;width:246.214px;height:1.000px;background:#dcdcde;"></div>
<div class="tag" style="left:799.34px;top:444.60px;color:#2a3242;letter-spacing:0.3px;padding-left:4.2px">Medic <span class="o">I</span></div>
<div class="tag" style="right:861.04px;top:444.60px;color:#35302a;letter-spacing:-0.3px">ALS</div>
<div class="b" style="left:793.142px;top:470.000px;width:257.714px;height:113.000px;box-sizing:border-box;border:1px solid #dee1e6;border-left:2px solid #86735f;border-radius:6px;background:#f6f5f3;"></div>
<svg class="b" style="left:0;top:0;overflow:visible" width="1" height="1"><circle cx="916.60" cy="481.30" r="1.55" fill="#858585"/><circle cx="922.20" cy="481.30" r="1.55" fill="#858585"/><circle cx="927.80" cy="481.30" r="1.55" fill="#858585"/><circle cx="916.60" cy="486.25" r="1.55" fill="#858585"/><circle cx="922.20" cy="486.25" r="1.55" fill="#858585"/><circle cx="927.80" cy="486.25" r="1.55" fill="#858585"/></svg>
<div class="t tb" style="top:494px;font-size:11px;line-height:11px;font-weight:700;color:#a00c1f;letter-spacing:0.66px;left:799.44px;">06:00 - <span class="o">I</span>8:00</div>
<div class="t tb" style="top:494px;font-size:10.8px;line-height:10.8px;font-weight:700;color:#a00c1f;letter-spacing:-0.25px;right:861.29px;">OPEN SLOT</div>
<div class="t" style="top:511px;font-size:10px;line-height:10px;font-weight:400;color:#1e2636;left:799.64px;">EMT</div>
<div class="t" style="top:528px;font-size:10.4px;line-height:10.4px;font-weight:400;color:#1e2636;left:799.64px;">NC - Asheville - Administration</div>
<div class="t" style="top:544px;font-size:10px;line-height:10px;font-weight:400;color:#1e2636;letter-spacing:0.5px;right:861.24px;"><span class="o">I</span><span class="o">I</span>34</div>
<svg class="b" style="left:1007.86px;top:542.60px" width="15" height="12" viewBox="0 0 15 12" fill="none" stroke="#2a3345" stroke-width="1.05" stroke-linejoin="round"><path d="M1.2 10.1 V2.1 a0.9 0.9 0 0 1 0.9 -0.9 H9.3 V10.1 Z"/><path d="M1.2 6.9 H9.3"/><path d="M9.3 1.9 Q13.4 3.6 14 9 V10.1 H9.3"/><circle cx="3.9" cy="10.1" r="1.2" fill="#fff"/><circle cx="11.4" cy="10.1" r="1.2" fill="#fff"/></svg>
<div class="b" style="left:799.142px;top:558.000px;width:246.214px;height:1.000px;background:#dcdcde;"></div>
<div class="tag" style="left:799.34px;top:561.60px;color:#2a3242;letter-spacing:0.3px;padding-left:4.2px">Medic <span class="o">I</span></div>
<div class="tag" style="right:861.04px;top:561.60px;color:#35302a;letter-spacing:-0.3px">ALS</div>
<div class="b" style="left:1056.856px;top:339.000px;width:257.714px;height:112.000px;box-sizing:border-box;border:1px solid #dfe2e8;border-left:2px solid #3a8fea;border-radius:6px;background:#eef5fe;"></div>
<svg class="b" style="left:0;top:0;overflow:visible" width="1" height="1"><circle cx="1180.31" cy="350.30" r="1.55" fill="#6da2dd"/><circle cx="1185.91" cy="350.30" r="1.55" fill="#6da2dd"/><circle cx="1191.51" cy="350.30" r="1.55" fill="#6da2dd"/><circle cx="1180.31" cy="355.25" r="1.55" fill="#6da2dd"/><circle cx="1185.91" cy="355.25" r="1.55" fill="#6da2dd"/><circle cx="1191.51" cy="355.25" r="1.55" fill="#6da2dd"/></svg>
<div class="t tb" style="top:363px;font-size:11px;line-height:11px;font-weight:700;color:#a00c1f;letter-spacing:0.66px;left:1063.16px;">06:00 - <span class="o">I</span>8:00</div>
<div class="t tb" style="top:363px;font-size:10.8px;line-height:10.8px;font-weight:700;color:#a00c1f;letter-spacing:-0.25px;right:597.58px;">OPEN SLOT</div>
<div class="t" style="top:379px;font-size:10px;line-height:10px;font-weight:400;color:#1e2636;left:1063.36px;">Paramedic</div>
<div class="t" style="top:396px;font-size:10.4px;line-height:10.4px;font-weight:400;color:#1e2636;left:1063.36px;">NC - Asheville - Administration</div>
<div class="t" style="top:412px;font-size:10px;line-height:10px;font-weight:400;color:#1e2636;letter-spacing:0.5px;right:597.53px;"><span class="o">I</span><span class="o">I</span>34</div>
<svg class="b" style="left:1271.57px;top:410.60px" width="15" height="12" viewBox="0 0 15 12" fill="none" stroke="#2a3345" stroke-width="1.05" stroke-linejoin="round"><path d="M1.2 10.1 V2.1 a0.9 0.9 0 0 1 0.9 -0.9 H9.3 V10.1 Z"/><path d="M1.2 6.9 H9.3"/><path d="M9.3 1.9 Q13.4 3.6 14 9 V10.1 H9.3"/><circle cx="3.9" cy="10.1" r="1.2" fill="#fff"/><circle cx="11.4" cy="10.1" r="1.2" fill="#fff"/></svg>
<div class="b" style="left:1062.856px;top:426.000px;width:246.214px;height:1.000px;background:#d5dce6;"></div>
<div class="tag" style="left:1063.06px;top:429.60px;color:#2a3242;letter-spacing:0.3px;padding-left:4.2px">Medic <span class="o">I</span></div>
<div class="tag" style="right:597.33px;top:429.60px;color:#2a68bd;letter-spacing:-0.3px">ALS</div>
<div class="b" style="left:1056.856px;top:455.000px;width:257.714px;height:113.000px;box-sizing:border-box;border:1px solid #dfe2e8;border-left:2px solid #3a8fea;border-radius:6px;background:#eef5fe;"></div>
<svg class="b" style="left:0;top:0;overflow:visible" width="1" height="1"><circle cx="1180.31" cy="466.30" r="1.55" fill="#6da2dd"/><circle cx="1185.91" cy="466.30" r="1.55" fill="#6da2dd"/><circle cx="1191.51" cy="466.30" r="1.55" fill="#6da2dd"/><circle cx="1180.31" cy="471.25" r="1.55" fill="#6da2dd"/><circle cx="1185.91" cy="471.25" r="1.55" fill="#6da2dd"/><circle cx="1191.51" cy="471.25" r="1.55" fill="#6da2dd"/></svg>
<div class="t tb" style="top:479px;font-size:11px;line-height:11px;font-weight:700;color:#a00c1f;letter-spacing:0.66px;left:1063.16px;">06:00 - <span class="o">I</span>8:00</div>
<div class="t tb" style="top:479px;font-size:10.8px;line-height:10.8px;font-weight:700;color:#a00c1f;letter-spacing:-0.25px;right:597.58px;">OPEN SLOT</div>
<div class="t" style="top:496px;font-size:10px;line-height:10px;font-weight:400;color:#1e2636;left:1063.36px;">EMT</div>
<div class="t" style="top:513px;font-size:10.4px;line-height:10.4px;font-weight:400;color:#1e2636;left:1063.36px;">NC - Asheville - Administration</div>
<div class="t" style="top:529px;font-size:10px;line-height:10px;font-weight:400;color:#1e2636;letter-spacing:0.5px;right:597.53px;"><span class="o">I</span><span class="o">I</span>34</div>
<svg class="b" style="left:1271.57px;top:527.60px" width="15" height="12" viewBox="0 0 15 12" fill="none" stroke="#2a3345" stroke-width="1.05" stroke-linejoin="round"><path d="M1.2 10.1 V2.1 a0.9 0.9 0 0 1 0.9 -0.9 H9.3 V10.1 Z"/><path d="M1.2 6.9 H9.3"/><path d="M9.3 1.9 Q13.4 3.6 14 9 V10.1 H9.3"/><circle cx="3.9" cy="10.1" r="1.2" fill="#fff"/><circle cx="11.4" cy="10.1" r="1.2" fill="#fff"/></svg>
<div class="b" style="left:1062.856px;top:543.000px;width:246.214px;height:1.000px;background:#d5dce6;"></div>
<div class="tag" style="left:1063.06px;top:546.60px;color:#2a3242;letter-spacing:0.3px;padding-left:4.2px">Medic <span class="o">I</span></div>
<div class="tag" style="right:597.33px;top:546.60px;color:#2a68bd;letter-spacing:-0.3px">ALS</div>
<div class="b" style="left:1320.570px;top:339.000px;width:257.714px;height:112.000px;box-sizing:border-box;border:1px solid #dee1e6;border-left:2px solid #86735f;border-radius:6px;background:#f6f5f3;"></div>
<svg class="b" style="left:0;top:0;overflow:visible" width="1" height="1"><circle cx="1444.03" cy="350.30" r="1.55" fill="#858585"/><circle cx="1449.63" cy="350.30" r="1.55" fill="#858585"/><circle cx="1455.23" cy="350.30" r="1.55" fill="#858585"/><circle cx="1444.03" cy="355.25" r="1.55" fill="#858585"/><circle cx="1449.63" cy="355.25" r="1.55" fill="#858585"/><circle cx="1455.23" cy="355.25" r="1.55" fill="#858585"/></svg>
<div class="t tb" style="top:363px;font-size:11px;line-height:11px;font-weight:700;color:#a00c1f;letter-spacing:0.66px;left:1326.87px;">06:00 - <span class="o">I</span>8:00</div>
<div class="t tb" style="top:363px;font-size:10.8px;line-height:10.8px;font-weight:700;color:#a00c1f;letter-spacing:-0.25px;right:333.87px;">OPEN SLOT</div>
<div class="t" style="top:379px;font-size:10px;line-height:10px;font-weight:400;color:#1e2636;left:1327.07px;">Paramedic</div>
<div class="t" style="top:396px;font-size:10.4px;line-height:10.4px;font-weight:400;color:#1e2636;left:1327.07px;">NC - Asheville - Administration</div>
<div class="t" style="top:412px;font-size:10px;line-height:10px;font-weight:400;color:#1e2636;letter-spacing:0.5px;right:333.82px;"><span class="o">I</span><span class="o">I</span>34</div>
<svg class="b" style="left:1535.28px;top:410.60px" width="15" height="12" viewBox="0 0 15 12" fill="none" stroke="#2a3345" stroke-width="1.05" stroke-linejoin="round"><path d="M1.2 10.1 V2.1 a0.9 0.9 0 0 1 0.9 -0.9 H9.3 V10.1 Z"/><path d="M1.2 6.9 H9.3"/><path d="M9.3 1.9 Q13.4 3.6 14 9 V10.1 H9.3"/><circle cx="3.9" cy="10.1" r="1.2" fill="#fff"/><circle cx="11.4" cy="10.1" r="1.2" fill="#fff"/></svg>
<div class="b" style="left:1326.570px;top:426.000px;width:246.214px;height:1.000px;background:#dcdcde;"></div>
<div class="tag" style="left:1326.77px;top:429.60px;color:#2a3242;letter-spacing:0.3px;padding-left:4.2px">Medic <span class="o">I</span></div>
<div class="tag" style="right:333.62px;top:429.60px;color:#35302a;letter-spacing:-0.3px">ALS</div>
<div class="b" style="left:1320.570px;top:455.000px;width:257.714px;height:113.000px;box-sizing:border-box;border:1px solid #dee1e6;border-left:2px solid #86735f;border-radius:6px;background:#f6f5f3;"></div>
<svg class="b" style="left:0;top:0;overflow:visible" width="1" height="1"><circle cx="1444.03" cy="466.30" r="1.55" fill="#858585"/><circle cx="1449.63" cy="466.30" r="1.55" fill="#858585"/><circle cx="1455.23" cy="466.30" r="1.55" fill="#858585"/><circle cx="1444.03" cy="471.25" r="1.55" fill="#858585"/><circle cx="1449.63" cy="471.25" r="1.55" fill="#858585"/><circle cx="1455.23" cy="471.25" r="1.55" fill="#858585"/></svg>
<div class="t tb" style="top:479px;font-size:11px;line-height:11px;font-weight:700;color:#a00c1f;letter-spacing:0.66px;left:1326.87px;">06:00 - <span class="o">I</span>8:00</div>
<div class="t tb" style="top:479px;font-size:10.8px;line-height:10.8px;font-weight:700;color:#a00c1f;letter-spacing:-0.25px;right:333.87px;">OPEN SLOT</div>
<div class="t" style="top:496px;font-size:10px;line-height:10px;font-weight:400;color:#1e2636;left:1327.07px;">EMT</div>
<div class="t" style="top:513px;font-size:10.4px;line-height:10.4px;font-weight:400;color:#1e2636;left:1327.07px;">NC - Asheville - Administration</div>
<div class="t" style="top:529px;font-size:10px;line-height:10px;font-weight:400;color:#1e2636;letter-spacing:0.5px;right:333.82px;"><span class="o">I</span><span class="o">I</span>34</div>
<svg class="b" style="left:1535.28px;top:527.60px" width="15" height="12" viewBox="0 0 15 12" fill="none" stroke="#2a3345" stroke-width="1.05" stroke-linejoin="round"><path d="M1.2 10.1 V2.1 a0.9 0.9 0 0 1 0.9 -0.9 H9.3 V10.1 Z"/><path d="M1.2 6.9 H9.3"/><path d="M9.3 1.9 Q13.4 3.6 14 9 V10.1 H9.3"/><circle cx="3.9" cy="10.1" r="1.2" fill="#fff"/><circle cx="11.4" cy="10.1" r="1.2" fill="#fff"/></svg>
<div class="b" style="left:1326.570px;top:543.000px;width:246.214px;height:1.000px;background:#dcdcde;"></div>
<div class="tag" style="left:1326.77px;top:546.60px;color:#2a3242;letter-spacing:0.3px;padding-left:4.2px">Medic <span class="o">I</span></div>
<div class="tag" style="right:333.62px;top:546.60px;color:#35302a;letter-spacing:-0.3px">ALS</div>
<div class="b" style="left:1584.284px;top:339.000px;width:257.714px;height:127.000px;box-sizing:border-box;border:1px solid #dee1e6;border-left:2px solid #86735f;border-radius:6px;background:#f6f5f3;"></div>
<svg class="b" style="left:0;top:0;overflow:visible" width="1" height="1"><circle cx="1707.74" cy="350.30" r="1.55" fill="#858585"/><circle cx="1713.34" cy="350.30" r="1.55" fill="#858585"/><circle cx="1718.94" cy="350.30" r="1.55" fill="#858585"/><circle cx="1707.74" cy="355.25" r="1.55" fill="#858585"/><circle cx="1713.34" cy="355.25" r="1.55" fill="#858585"/><circle cx="1718.94" cy="355.25" r="1.55" fill="#858585"/></svg>
<div class="t tb" style="top:363px;font-size:11px;line-height:11px;font-weight:700;color:#a00c1f;letter-spacing:0.66px;left:1590.58px;">06:00 - <span class="o">I</span>8:00</div>
<div class="t tb" style="top:363px;font-size:10.8px;line-height:10.8px;font-weight:700;color:#a00c1f;letter-spacing:-0.25px;right:70.15px;">OPEN SLOT</div>
<div class="t" style="top:379px;font-size:10px;line-height:10px;font-weight:400;color:#1e2636;left:1590.78px;">Paramedic</div>
<div class="t" style="top:396px;font-size:10.4px;line-height:10.4px;font-weight:400;color:#1e2636;left:1590.78px;">NC - Asheville - Administration</div>
<div class="t" style="top:412px;font-size:10px;line-height:10px;font-weight:400;color:#1e2636;letter-spacing:0.5px;right:70.10px;"><span class="o">I</span><span class="o">I</span>34</div>
<svg class="b" style="left:1799.00px;top:410.60px" width="15" height="12" viewBox="0 0 15 12" fill="none" stroke="#2a3345" stroke-width="1.05" stroke-linejoin="round"><path d="M1.2 10.1 V2.1 a0.9 0.9 0 0 1 0.9 -0.9 H9.3 V10.1 Z"/><path d="M1.2 6.9 H9.3"/><path d="M9.3 1.9 Q13.4 3.6 14 9 V10.1 H9.3"/><circle cx="3.9" cy="10.1" r="1.2" fill="#fff"/><circle cx="11.4" cy="10.1" r="1.2" fill="#fff"/></svg>
<div class="badge" style="left:1590.28px;top:428px;background:#dfa800;letter-spacing:-0.33px">COMMENTS</div>
<div class="b" style="left:1590.284px;top:441.000px;width:246.214px;height:1.000px;background:#dcdcde;"></div>
<div class="tag" style="left:1590.48px;top:444.60px;color:#2a3242;letter-spacing:0.3px;padding-left:4.2px">Medic <span class="o">I</span></div>
<div class="tag" style="right:69.90px;top:444.60px;color:#35302a;letter-spacing:-0.3px">ALS</div>
<div class="b" style="left:1584.284px;top:470.000px;width:257.714px;height:113.000px;box-sizing:border-box;border:1px solid #dee1e6;border-left:2px solid #86735f;border-radius:6px;background:#f6f5f3;"></div>
<svg class="b" style="left:0;top:0;overflow:visible" width="1" height="1"><circle cx="1707.74" cy="481.30" r="1.55" fill="#858585"/><circle cx="1713.34" cy="481.30" r="1.55" fill="#858585"/><circle cx="1718.94" cy="481.30" r="1.55" fill="#858585"/><circle cx="1707.74" cy="486.25" r="1.55" fill="#858585"/><circle cx="1713.34" cy="486.25" r="1.55" fill="#858585"/><circle cx="1718.94" cy="486.25" r="1.55" fill="#858585"/></svg>
<div class="t tb" style="top:494px;font-size:11px;line-height:11px;font-weight:700;color:#a00c1f;letter-spacing:0.66px;left:1590.58px;">06:00 - <span class="o">I</span>8:00</div>
<div class="t tb" style="top:494px;font-size:10.8px;line-height:10.8px;font-weight:700;color:#a00c1f;letter-spacing:-0.25px;right:70.15px;">OPEN SLOT</div>
<div class="t" style="top:511px;font-size:10px;line-height:10px;font-weight:400;color:#1e2636;left:1590.78px;">EMT</div>
<div class="t" style="top:528px;font-size:10.4px;line-height:10.4px;font-weight:400;color:#1e2636;left:1590.78px;">NC - Asheville - Administration</div>
<div class="t" style="top:544px;font-size:10px;line-height:10px;font-weight:400;color:#1e2636;letter-spacing:0.5px;right:70.10px;"><span class="o">I</span><span class="o">I</span>34</div>
<svg class="b" style="left:1799.00px;top:542.60px" width="15" height="12" viewBox="0 0 15 12" fill="none" stroke="#2a3345" stroke-width="1.05" stroke-linejoin="round"><path d="M1.2 10.1 V2.1 a0.9 0.9 0 0 1 0.9 -0.9 H9.3 V10.1 Z"/><path d="M1.2 6.9 H9.3"/><path d="M9.3 1.9 Q13.4 3.6 14 9 V10.1 H9.3"/><circle cx="3.9" cy="10.1" r="1.2" fill="#fff"/><circle cx="11.4" cy="10.1" r="1.2" fill="#fff"/></svg>
<div class="b" style="left:1590.284px;top:558.000px;width:246.214px;height:1.000px;background:#dcdcde;"></div>
<div class="tag" style="left:1590.48px;top:561.60px;color:#2a3242;letter-spacing:0.3px;padding-left:4.2px">Medic <span class="o">I</span></div>
<div class="tag" style="right:69.90px;top:561.60px;color:#35302a;letter-spacing:-0.3px">ALS</div>
<div class="b" style="left:537.000px;top:30.000px;width:878.000px;height:80.000px;box-sizing:border-box;border:4px solid #fff723;"></div>
</body></html>
